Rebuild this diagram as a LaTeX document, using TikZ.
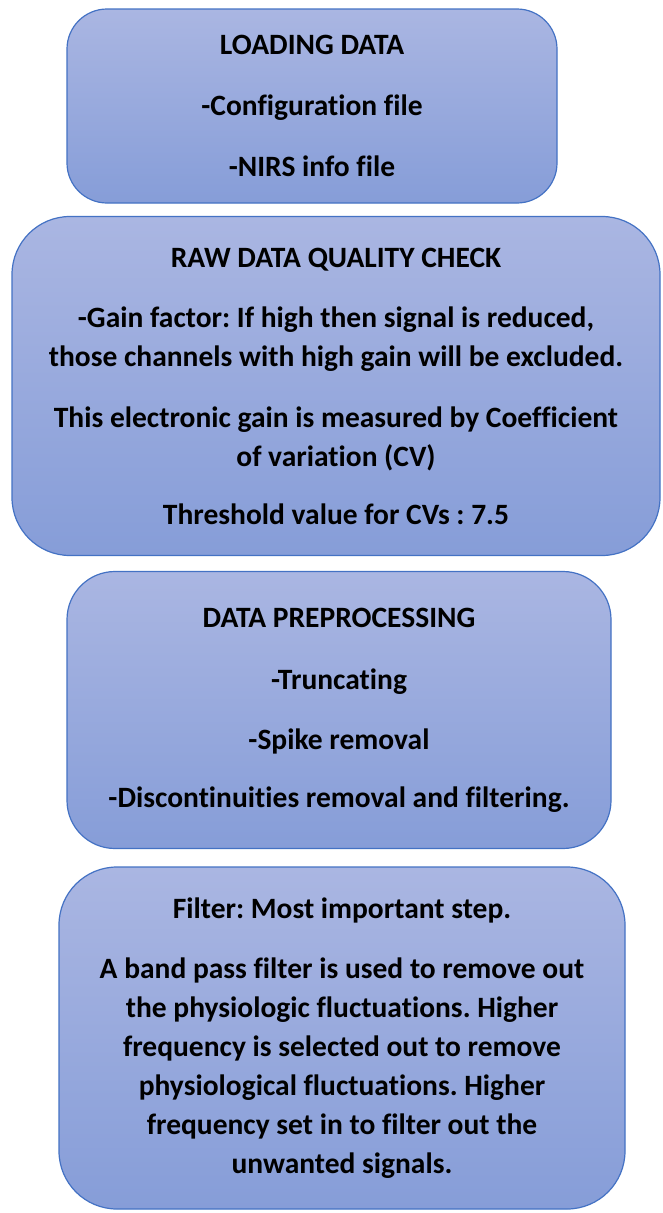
\documentclass[tikz,border=0pt]{standalone}
\usepackage{fontspec}
\setmainfont{Carlito}[Ligatures=NoCommon]
\frenchspacing
\definecolor{boxline}{RGB}{68,114,196}
\definecolor{boxtop}{RGB}{170,182,226}
\definecolor{boxbot}{RGB}{134,157,216}
\begin{document}
\begin{tikzpicture}[x=1pt,y=-1pt,
stage/.style={draw=boxline, line width=1.2pt, top color=boxtop, bottom color=boxbot,
  align=center, inner sep=0pt, font=\bfseries\fontsize{29.5}{39}\selectfont}]

\useasboundingbox (0,0) rectangle (662,1213);
\fill[white] (0,0) rectangle (662,1213);

\node[stage, minimum width=490pt, minimum height=194pt, rounded corners=40pt] (load) at (312,106)
{LOADING DATA\\[22pt] -Configuration file\\[22pt] -NIRS info file};

\node[stage, minimum width=648pt, minimum height=339pt, rounded corners=58pt] (check) at (336,386)
{RAW DATA QUALITY CHECK\\[21pt]
-Gain factor: If high then signal is reduced,\\ those channels with high gain will be excluded.\\[22pt]
This electronic gain is measured by Coefficient\\ of variation (CV)\\[19pt]
Threshold value for CVs : 7.5};

\node[stage, minimum width=544pt, minimum height=277pt, rounded corners=48pt] (prep) at (339,710)
{DATA PREPROCESSING\\[23pt] -Truncating\\[21pt] -Spike removal\\[19pt] -Discontinuities removal and filtering.};

\node[stage, minimum width=566pt, minimum height=342pt, rounded corners=58pt] (filter) at (342,1038)
{Filter: Most important step.\\[21pt]
A band pass filter is used to remove out\\ the physiologic fluctuations. Higher\\
frequency is selected out to remove\\ physiological fluctuations. Higher\\
frequency set in to filter out the\\ unwanted signals.};

\end{tikzpicture}
\end{document}
